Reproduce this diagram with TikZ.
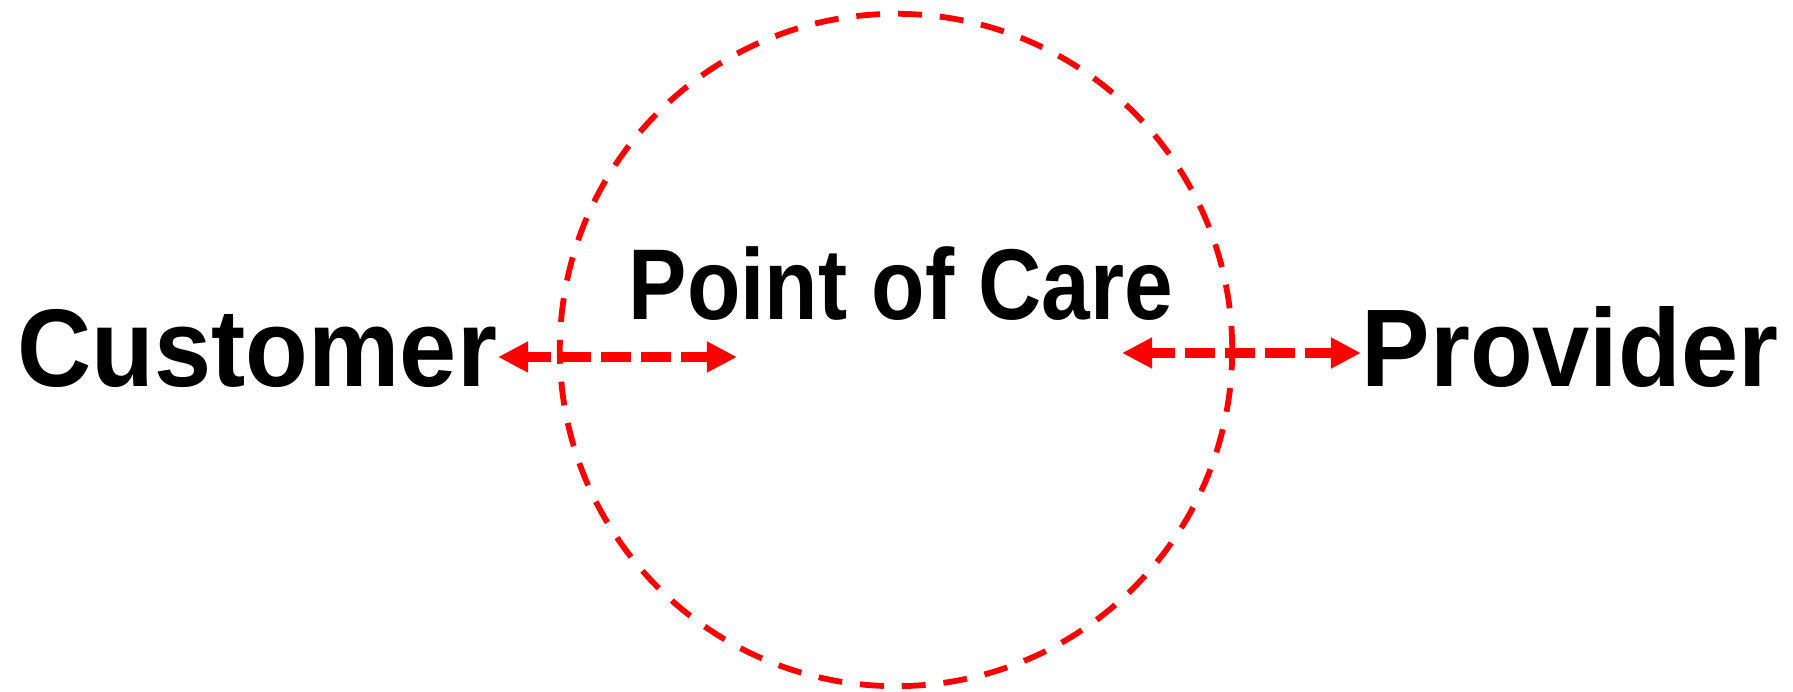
\documentclass[tikz,border=0pt]{standalone}
\usepackage{fontspec}
\setmainfont{Liberation Sans}
\usetikzlibrary{arrows.meta}
\definecolor{linkred}{RGB}{255,0,0}
\tikzset{
  lbl/.style={inner sep=0pt, anchor=base west, text=black,
    font=\bfseries\fontsize{31.4pt}{36pt}\selectfont},
  lblmid/.style={lbl, font=\bfseries\fontsize{28.6pt}{33pt}\selectfont},
  ring/.style={circle, draw=linkred, line width=1.65pt, inner sep=0pt,
    minimum size=6.72cm, dash pattern=on 6.8pt off 5.1pt},
  link/.style={draw=linkred, line width=2.85pt,
    dash pattern=on 8.54pt off 2.85pt, dash phase=1.42pt,
    {Triangle[length=8.54pt,width=8.25pt]}-{Triangle[length=8.54pt,width=8.25pt]}}
}
\begin{document}
\begin{tikzpicture}[x=0.01cm,y=-0.01cm]
  \useasboundingbox[fill=white] (0,0) rectangle (1793,692);
  \node[ring] (poc) at (896,350) {};
  \node[lbl] (customer) at (17,387) {\scalebox{0.93}[1]{Customer}};
  \node[lbl] (provider) at (1361,387) {\scalebox{0.93}[1]{Provider}};
  \node[lblmid] (care) at (628,320) {\scalebox{0.87}[1]{Point of Care}};
  \coordinate (custend) at (498,357);
  \coordinate (inleft) at (737,357);
  \coordinate (inright) at (1122,353);
  \coordinate (provend) at (1361,353);
  \draw[link] (custend) -- (inleft);
  \draw[link] (inright) -- (provend);
\end{tikzpicture}
\end{document}
